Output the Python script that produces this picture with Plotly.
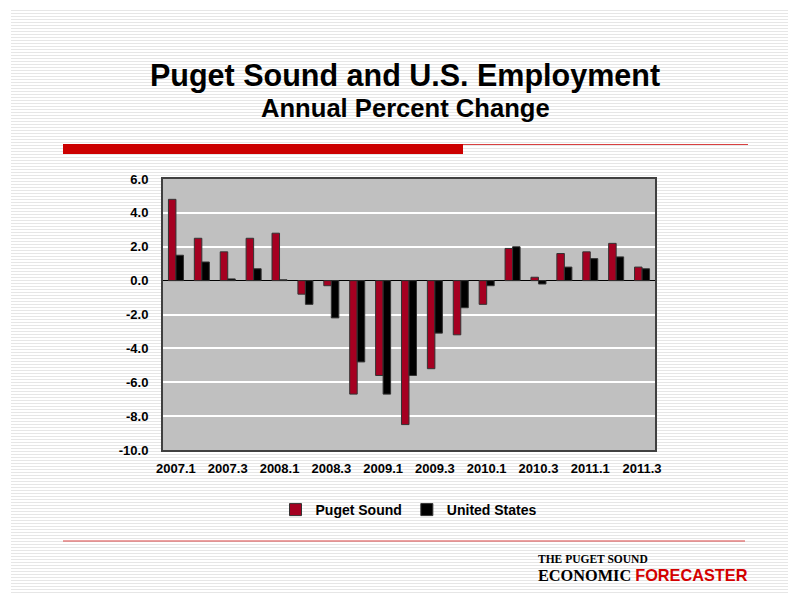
import plotly.graph_objects as go

quarters = ["2007.1", "2007.2", "2007.3", "2007.4", "2008.1", "2008.2", "2008.3", "2008.4",
            "2009.1", "2009.2", "2009.3", "2009.4", "2010.1", "2010.2", "2010.3", "2010.4",
            "2011.1", "2011.2", "2011.3"]
puget_sound = [4.8, 2.5, 1.7, 2.5, 2.8, -0.8, -0.3, -6.7, -5.6, -8.5, -5.2, -3.2, -1.4, 1.9, 0.2, 1.6, 1.7, 2.2, 0.8]
united_states = [1.5, 1.1, 0.1, 0.7, 0.05, -1.4, -2.2, -4.8, -6.7, -5.6, -3.1, -1.6, -0.3, 2.0, -0.2, 0.8, 1.3, 1.4, 0.7]
tick_labels = quarters[::2]
y_ticks = [-10, -8, -6, -4, -2, 0, 2, 4, 6]

W, H = 788, 593
L, R, T, B = 163, 655, 179, 450


def px(x):
    return (x - L) / (R - L)


def py(y):
    return (B - y) / (B - T)


ARIAL = "Arial, Liberation Sans, sans-serif"
SERIF = "Times New Roman, Liberation Serif, serif"

fig = go.Figure()
fig.add_trace(go.Bar(x=quarters, y=puget_sound, name="<b>Puget Sound</b>",
                     marker=dict(color="#A50021", line=dict(color="#333333", width=1))))
fig.add_trace(go.Bar(x=quarters, y=united_states, name="<b>United States</b>",
                     marker=dict(color="#000000", line=dict(color="#333333", width=1))))

shapes = []
# striped background
y = 10
while y < H:
    shapes.append(dict(type="line", xref="paper", yref="paper", x0=px(11), x1=px(W), y0=py(y + 0.5), y1=py(y + 0.5),
                       line=dict(color="#e6e6e6", width=1), layer="below"))
    y += 3
# plot area background
shapes.append(dict(type="rect", xref="paper", yref="paper", x0=0, x1=1, y0=0, y1=1,
                   fillcolor="#C0C0C0", line=dict(width=0), layer="below"))
# red header bar
shapes.append(dict(type="rect", xref="paper", yref="paper", x0=px(63), x1=px(463), y0=py(154), y1=py(144),
                   fillcolor="#CC0000", line=dict(width=0)))
shapes.append(dict(type="line", xref="paper", yref="paper", x0=px(463), x1=px(748), y0=py(144.5), y1=py(144.5),
                   line=dict(color="#D84040", width=1)))
# bottom rule
shapes.append(dict(type="line", xref="paper", yref="paper", x0=px(63), x1=px(745), y0=py(541), y1=py(541),
                   line=dict(color="#D84040", width=1)))

annotations = [
    dict(text="<b>Puget Sound and U.S. Employment</b>", x=px(405), y=py(75), xref="paper", yref="paper",
         showarrow=False, xanchor="center", yanchor="middle", font=dict(family=ARIAL, size=30.5, color="#000")),
    dict(text="<b>Annual Percent Change</b>", x=px(405), y=py(108), xref="paper", yref="paper",
         showarrow=False, xanchor="center", yanchor="middle", font=dict(family=ARIAL, size=25.6, color="#000")),
    dict(text="<b>THE PUGET SOUND</b>", x=px(536), y=py(559), xref="paper", yref="paper",
         showarrow=False, xanchor="left", yanchor="middle", font=dict(family=SERIF, size=11.5, color="#000")),
    dict(text="<b>ECONOMIC <span style='font-family:Arial, Liberation Sans, sans-serif;color:#D40000'>FORECASTER</span></b>",
         x=px(536), y=py(575), xref="paper", yref="paper",
         showarrow=False, xanchor="left", yanchor="middle", font=dict(family=SERIF, size=16.3, color="#000")),
]

fig.update_layout(
    width=W, height=H,
    margin=dict(l=L, r=W - R, t=T, b=H - B, pad=0),
    paper_bgcolor="#FFFFFF",
    plot_bgcolor="rgba(0,0,0,0)",
    barmode="group", bargap=0.42, bargroupgap=0,
    shapes=shapes,
    annotations=annotations,
    showlegend=True,
    legend=dict(orientation="h", x=px(409), y=py(510), xanchor="center", yanchor="middle",
                bgcolor="rgba(0,0,0,0)", font=dict(family=ARIAL, size=14, color="#000"),
                itemwidth=30, traceorder="normal"),
    font=dict(family=ARIAL, color="#000"),
)
fig.update_xaxes(type="category", tickmode="array", tickvals=tick_labels, ticktext=[f"<b>{t}</b>" for t in tick_labels],
                 tickfont=dict(family=ARIAL, size=13, color="#000"), ticks="", showgrid=False,
                 showline=True, linecolor="#404040", linewidth=2, mirror=True, ticklabelstandoff=5)
fig.update_yaxes(range=[-10, 6], tickmode="array", tickvals=y_ticks, ticktext=[f"<b>{v:.1f}</b>" for v in y_ticks],
                 tickfont=dict(family=ARIAL, size=13, color="#000"), ticks="",
                 showgrid=True, gridcolor="#FFFFFF", gridwidth=2,
                 zeroline=True, zerolinecolor="#000000", zerolinewidth=1,
                 showline=True, linecolor="#404040", linewidth=2, mirror=True, ticklabelstandoff=10)

fig.write_html("out.html")
